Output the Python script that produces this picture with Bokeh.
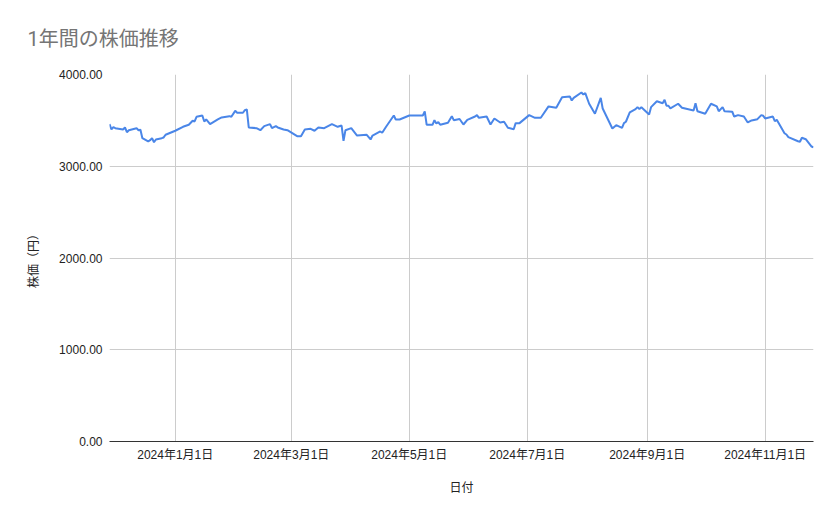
import pandas as pd
from bokeh.plotting import figure
from bokeh.models import Range1d, FixedTicker, NumeralTickFormatter, ColumnDataSource
from bokeh.embed import file_html
from bokeh.resources import INLINE

title_text = "1年間の株価推移"
x_label = "日付"
y_label = "株価（円）"

dates = [
    "2023-11-28", "2023-11-29", "2023-11-30", "2023-12-01", "2023-12-05", "2023-12-06",
    "2023-12-07", "2023-12-08", "2023-12-12", "2023-12-13", "2023-12-14", "2023-12-15",
    "2023-12-18", "2023-12-19", "2023-12-20", "2023-12-21", "2023-12-22", "2023-12-25",
    "2023-12-26", "2023-12-27", "2024-01-01", "2024-01-05", "2024-01-08", "2024-01-10",
    "2024-01-11", "2024-01-12", "2024-01-15", "2024-01-16", "2024-01-17", "2024-01-19",
    "2024-01-23", "2024-01-25", "2024-01-29", "2024-01-30", "2024-02-01", "2024-02-02",
    "2024-02-05", "2024-02-06", "2024-02-07", "2024-02-08", "2024-02-12", "2024-02-14",
    "2024-02-16", "2024-02-19", "2024-02-20", "2024-02-22", "2024-02-23", "2024-02-26",
    "2024-02-28", "2024-03-04", "2024-03-06", "2024-03-08", "2024-03-11", "2024-03-13",
    "2024-03-15", "2024-03-18", "2024-03-22", "2024-03-25", "2024-03-27", "2024-03-28",
    "2024-03-29", "2024-04-01", "2024-04-04", "2024-04-09", "2024-04-11", "2024-04-12",
    "2024-04-16", "2024-04-17", "2024-04-19", "2024-04-23", "2024-04-24", "2024-04-26",
    "2024-05-01", "2024-05-08", "2024-05-09", "2024-05-10", "2024-05-13", "2024-05-14",
    "2024-05-15", "2024-05-16", "2024-05-17", "2024-05-21", "2024-05-23", "2024-05-24",
    "2024-05-27", "2024-05-29", "2024-05-31", "2024-06-04", "2024-06-05", "2024-06-06",
    "2024-06-10", "2024-06-12", "2024-06-14", "2024-06-17", "2024-06-19", "2024-06-21",
    "2024-06-24", "2024-06-25", "2024-06-27", "2024-07-02", "2024-07-05", "2024-07-08",
    "2024-07-12", "2024-07-16", "2024-07-19", "2024-07-23", "2024-07-24", "2024-07-25",
    "2024-07-29", "2024-07-30", "2024-07-31", "2024-08-02", "2024-08-05", "2024-08-08",
    "2024-08-09", "2024-08-14", "2024-08-16", "2024-08-19", "2024-08-20", "2024-08-21",
    "2024-08-23", "2024-08-26", "2024-08-27", "2024-08-28", "2024-08-29", "2024-09-02",
    "2024-09-03", "2024-09-06", "2024-09-09", "2024-09-10", "2024-09-11", "2024-09-12",
    "2024-09-13", "2024-09-17", "2024-09-19", "2024-09-25", "2024-09-26", "2024-09-27",
    "2024-10-01", "2024-10-04", "2024-10-07", "2024-10-08", "2024-10-10", "2024-10-11",
    "2024-10-15", "2024-10-16", "2024-10-18", "2024-10-21", "2024-10-23", "2024-10-25",
    "2024-10-28", "2024-10-30", "2024-10-31", "2024-11-01", "2024-11-05", "2024-11-06",
    "2024-11-07", "2024-11-11", "2024-11-12", "2024-11-13", "2024-11-18", "2024-11-19",
    "2024-11-20", "2024-11-22", "2024-11-25", "2024-11-26",
]

prices = [
    3459, 3401, 3426, 3415, 3401, 3423,
    3371, 3393, 3415, 3393, 3398, 3306,
    3270, 3284, 3306, 3262, 3292, 3306,
    3314, 3343, 3387, 3430, 3452, 3496,
    3488, 3539, 3553, 3488, 3510, 3459,
    3510, 3532, 3546, 3539, 3604, 3583,
    3583, 3611, 3619, 3423, 3415, 3393,
    3437, 3459, 3415, 3437, 3423, 3401,
    3393, 3328, 3328, 3401, 3408, 3387,
    3423, 3415, 3459, 3430, 3444, 3277,
    3393, 3415, 3335, 3343, 3292, 3335,
    3379, 3365, 3430, 3553, 3510, 3510,
    3553, 3553, 3597, 3452, 3452, 3502,
    3466, 3481, 3452, 3474, 3546, 3502,
    3515, 3455, 3506, 3542, 3557, 3528,
    3542, 3455, 3521, 3477, 3485, 3419,
    3404, 3470, 3470, 3557, 3528, 3528,
    3652, 3637, 3753, 3761, 3717, 3746,
    3804, 3782, 3797, 3681, 3572, 3746,
    3630, 3412, 3448, 3419, 3470, 3485,
    3586, 3622, 3644, 3622, 3644, 3564,
    3644, 3709, 3687, 3724, 3659, 3659,
    3630, 3681, 3637, 3608, 3687, 3600,
    3572, 3681, 3652, 3600, 3644, 3600,
    3594, 3542, 3557, 3542, 3477, 3499,
    3513, 3557, 3550, 3521, 3542, 3491,
    3506, 3360, 3346, 3317, 3273, 3267,
    3310, 3295, 3215, 3205,
]

x_tick_dates = ["2024-01-01", "2024-03-01", "2024-05-01", "2024-07-01", "2024-09-01", "2024-11-01"]
x_tick_labels = ["2024年1月1日", "2024年3月1日", "2024年5月1日", "2024年7月1日", "2024年9月1日", "2024年11月1日"]
y_ticks = [0, 1000, 2000, 3000, 4000]

dt = pd.to_datetime(dates)
source = ColumnDataSource(dict(date=dt, price=prices))

def to_ms(s):
    return pd.Timestamp(s).value / 1e6

x_ticks_ms = [to_ms(d) for d in x_tick_dates]

FONT = "Liberation Sans, Noto Sans CJK JP"

p = figure(
    width=831, height=511,
    x_axis_type="datetime",
    x_range=Range1d(to_ms(dates[0]), to_ms(dates[-1])),
    y_range=Range1d(0, 4000),
    output_backend="svg", toolbar_location=None,
    min_border_left=109, min_border_right=18, min_border_top=74, min_border_bottom=70,
)
p.outline_line_color = None
p.background_fill_color = "white"

p.title.text = title_text
p.title.text_font = "Roboto, Noto Sans CJK JP"
p.title.text_font_size = "20px"
p.title.text_font_style = "normal"
p.title.text_color = "#757575"
p.title.align = "left"
p.title.vertical_align = "top"
p.title.offset = -82
p.title.standoff = 44

p.line(x="date", y="price", source=source, line_color="#4a86e8", line_width=2)

# axes
p.xaxis.ticker = FixedTicker(ticks=x_ticks_ms)
p.xaxis.major_label_overrides = {t: lab for t, lab in zip(x_ticks_ms, x_tick_labels)}
p.xaxis.axis_line_color = "#333333"
p.xaxis.major_tick_line_color = None
p.xaxis.minor_tick_line_color = None
p.xaxis.major_tick_out = 0
p.xaxis.minor_tick_out = 0
p.xaxis.major_label_standoff = 6
p.xaxis.axis_label = x_label
p.xaxis.axis_label_standoff = 16

p.yaxis.ticker = FixedTicker(ticks=y_ticks)
p.yaxis.formatter = NumeralTickFormatter(format="0.00")
p.yaxis.axis_line_color = None
p.yaxis.major_tick_line_color = None
p.yaxis.minor_tick_line_color = None
p.yaxis.major_tick_out = 0
p.yaxis.minor_tick_out = 0
p.yaxis.major_label_standoff = 7
p.yaxis.axis_label = y_label
p.yaxis.axis_label_standoff = 15

for ax in (p.xaxis, p.yaxis):
    ax.major_label_text_font = FONT
    ax.major_label_text_font_size = "12px"
    ax.major_label_text_color = "#222222"
    ax.axis_label_text_font = FONT
    ax.axis_label_text_font_size = "12px"
    ax.axis_label_text_font_style = "normal"
    ax.axis_label_text_color = "#222222"

p.xgrid.ticker = FixedTicker(ticks=x_ticks_ms)
p.ygrid.ticker = FixedTicker(ticks=y_ticks)
p.xgrid.grid_line_color = "#cccccc"
p.ygrid.grid_line_color = "#cccccc"

open("out.html", "w").write(file_html(p, INLINE))
